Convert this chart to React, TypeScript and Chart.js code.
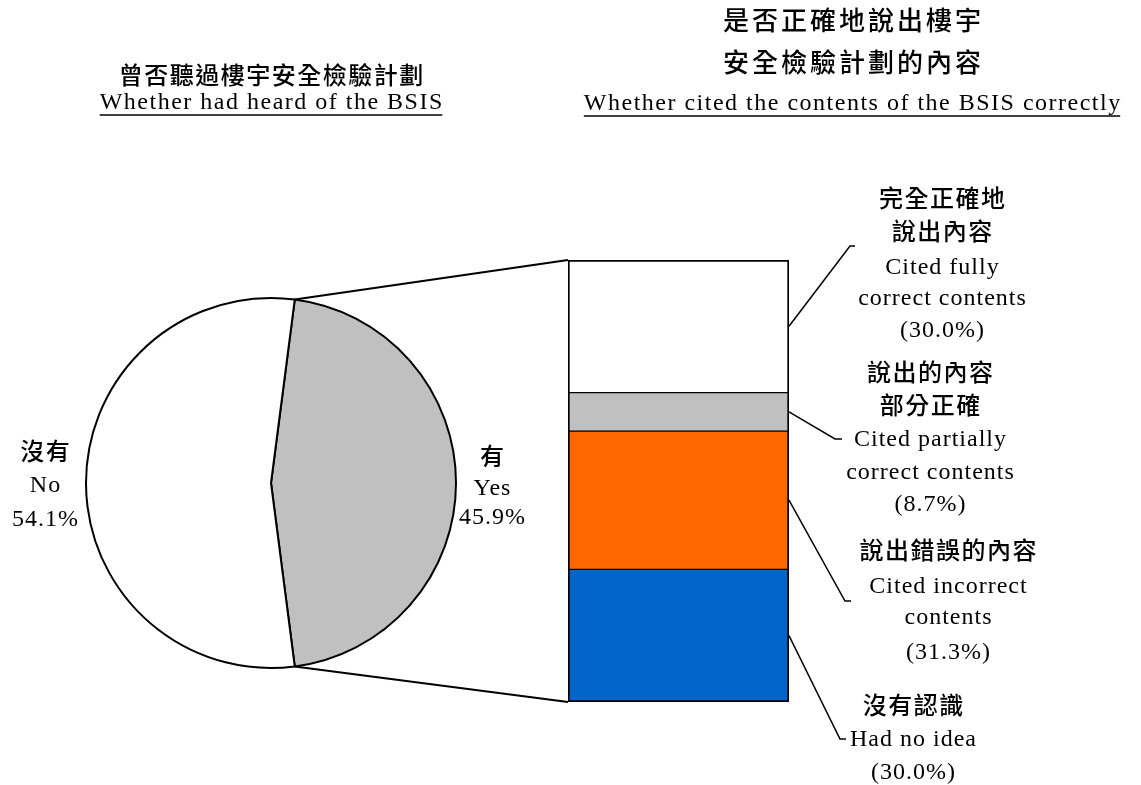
import React, { useEffect, useRef } from 'react';
import { Chart, registerables } from 'chart.js';

Chart.register(...registerables);

// ---------- data ----------
const pieCategoriesZh = ['有', '沒有'];
const pieCategoriesEn = ['Yes', 'No'];
const pieValues = [45.9, 54.1];
const pieColors = ['#C0C0C0', '#FFFFFF'];

// bottom -> top of the stacked bar
const barCategoriesZh = [['沒有認識'], ['說出錯誤的內容'], ['說出的內容', '部分正確'], ['完全正確地', '說出內容']];
const barCategoriesEn = [['Had no idea'], ['Cited incorrect', 'contents'], ['Cited partially', 'correct contents'], ['Cited fully', 'correct contents']];
const barValues = [30.0, 31.3, 8.7, 30.0];
const barColors = ['#0066CC', '#FF6600', '#C0C0C0', '#FFFFFF'];

const titleLeftZh = '曾否聽過樓宇安全檢驗計劃';
const titleLeftEn = 'Whether had heard of the BSIS';
const titleRightZh = ['是否正確地說出樓宇', '安全檢驗計劃的內容'];
const titleRightEn = 'Whether cited the contents of the BSIS correctly';

// ---------- layout ----------
const W = 1141;
const H = 785;

const ZH_FONT = '"Noto Sans CJK TC", "Noto Sans CJK SC", sans-serif';
const EN_FONT = '"Liberation Serif", "Times New Roman", serif';
const ZH = '500 24px ' + ZH_FONT;
const ZH_SP = 1.5;
const EN = '24px ' + EN_FONT;

const barLabelLayout = [
  { elbow: [840, 739], tick: 6, cx: 913, ys: [705, 740, 773] },
  { elbow: [845, 601], tick: 6, cx: 948, ys: [550, 587, 618, 653] },
  { elbow: [835, 439], tick: 7, cx: 930, ys: [372, 405, 440, 473, 505] },
  { elbow: [850, 246], tick: 5, cx: 942, ys: [198, 231, 268, 299, 331] },
];
const pieLabelLayout = [
  { cx: 492, ys: [456, 489, 518] },
  { cx: 45, ys: [451, 486, 520] },
];

function drawText(
  ctx: CanvasRenderingContext2D,
  text: string,
  x: number,
  y: number,
  font: string,
  spacing: number,
  underline = false,
  underlineOffset = 12
) {
  ctx.save();
  ctx.font = font;
  (ctx as any).letterSpacing = spacing + 'px';
  ctx.textAlign = 'center';
  ctx.textBaseline = 'middle';
  ctx.fillStyle = '#000';
  ctx.fillText(text, x + spacing / 2, y);
  if (underline) {
    const w = ctx.measureText(text).width - spacing;
    ctx.strokeStyle = '#000';
    ctx.lineWidth = 1.5;
    ctx.beginPath();
    ctx.moveTo(x - w / 2, y + underlineOffset);
    ctx.lineTo(x + w / 2, y + underlineOffset);
    ctx.stroke();
  }
  ctx.restore();
}

export default function App() {
  const pieRef = useRef<HTMLCanvasElement>(null);
  const barRef = useRef<HTMLCanvasElement>(null);

  useEffect(() => {
    if (!pieRef.current || !barRef.current) return;

    const pieChart = new Chart(pieRef.current, {
      type: 'pie',
      data: {
        labels: pieCategoriesEn,
        datasets: [
          {
            data: pieValues,
            backgroundColor: pieColors,
            borderColor: '#000',
            borderWidth: 2,
          },
        ],
      },
      options: {
        responsive: false,
        animation: false,
        rotation: 90 - (pieValues[0] * 360) / 100 / 2,
        layout: { padding: { left: 85, right: W - 85 - 372, top: 297, bottom: H - 297 - 372 } },
        plugins: { legend: { display: false }, tooltip: { enabled: false } },
      },
    });

    const overlay = {
      id: 'overlay',
      afterDraw(chart: any) {
        const ctx: CanvasRenderingContext2D = chart.ctx;
        const n = barValues.length;
        const els = barValues.map((_, i) => chart.getDatasetMeta(i).data[0] as any);
        const left = els[0].x - els[0].width / 2;
        const right = els[0].x + els[0].width / 2;
        const topY = els[n - 1].y;
        const bottomY = els[0].base;

        // connectors from pie to bar
        const arc: any = pieChart.getDatasetMeta(0).data[0];
        const r = arc.outerRadius;
        const p1 = [arc.x + r * Math.cos(arc.startAngle), arc.y + r * Math.sin(arc.startAngle)];
        const p2 = [arc.x + r * Math.cos(arc.endAngle), arc.y + r * Math.sin(arc.endAngle)];
        ctx.save();
        ctx.strokeStyle = '#000';
        ctx.lineWidth = 2;
        ctx.beginPath();
        ctx.moveTo(p1[0], p1[1]);
        ctx.lineTo(left, topY);
        ctx.moveTo(p2[0], p2[1]);
        ctx.lineTo(left, bottomY);
        ctx.stroke();

        // leader lines
        ctx.lineWidth = 1.5;
        els.forEach((el, i) => {
          const L = barLabelLayout[i];
          const midY = (el.y + el.base) / 2;
          ctx.beginPath();
          ctx.moveTo(right, midY);
          ctx.lineTo(L.elbow[0], L.elbow[1]);
          ctx.lineTo(L.elbow[0] + L.tick, L.elbow[1]);
          ctx.stroke();
        });
        ctx.restore();

        // bar labels
        barValues.forEach((v, i) => {
          const L = barLabelLayout[i];
          const lines: { t: string; zh: boolean }[] = [
            ...barCategoriesZh[i].map((t) => ({ t, zh: true })),
            ...barCategoriesEn[i].map((t) => ({ t, zh: false })),
            { t: '(' + v.toFixed(1) + '%)', zh: false },
          ];
          lines.forEach((ln, k) => {
            if (ln.zh) drawText(ctx, ln.t, L.cx, L.ys[k], ZH, ZH_SP);
            else drawText(ctx, ln.t, L.cx, L.ys[k], EN, 1);
          });
        });

        // pie labels
        pieValues.forEach((v, i) => {
          const L = pieLabelLayout[i];
          drawText(ctx, pieCategoriesZh[i], L.cx, L.ys[0], ZH, ZH_SP);
          drawText(ctx, pieCategoriesEn[i], L.cx, L.ys[1], EN, 1);
          drawText(ctx, v.toFixed(1) + '%', L.cx, L.ys[2], EN, 1);
        });

        // titles
        drawText(ctx, titleLeftZh, 271, 75, ZH, ZH_SP);
        drawText(ctx, titleLeftEn, 271, 103, EN, 1.5, true, 12);
        drawText(ctx, titleRightZh[0], 852, 20, '500 26px ' + ZH_FONT, 3);
        drawText(ctx, titleRightZh[1], 852, 62, '500 26px ' + ZH_FONT, 3);
        drawText(ctx, titleRightEn, 852, 104, EN, 1.5, true, 12);
      },
    };

    const barChart = new Chart(barRef.current, {
      type: 'bar',
      data: {
        labels: ['BSIS'],
        datasets: barValues.map((v, i) => ({
          label: barCategoriesEn[i].join(' '),
          data: [v],
          backgroundColor: barColors[i],
          borderColor: '#000',
          borderWidth: { left: 2, right: 2, top: i === barValues.length - 1 ? 2 : 1, bottom: i === 0 ? 2 : 1 },
          borderSkipped: false,
          categoryPercentage: 1,
          barPercentage: 1,
        })),
      },
      options: {
        responsive: false,
        animation: false,
        layout: { padding: { left: 568, right: W - 789, top: 260, bottom: H - 702 } },
        scales: {
          x: { display: false, stacked: true },
          y: { display: false, stacked: true, min: 0, max: 100 },
        },
        plugins: { legend: { display: false }, tooltip: { enabled: false } },
      },
      plugins: [overlay],
    });

    return () => {
      barChart.destroy();
      pieChart.destroy();
    };
  }, []);

  return (
    <div style={{ position: 'absolute', left: 0, top: 0, width: W, height: H, background: '#fff' }}>
      <canvas
        ref={pieRef}
        width={W}
        height={H}
        style={{ position: 'absolute', left: 0, top: 0, width: W + 'px', height: H + 'px' }}
      />
      <canvas
        ref={barRef}
        width={W}
        height={H}
        style={{ position: 'absolute', left: 0, top: 0, width: W + 'px', height: H + 'px' }}
      />
    </div>
  );
}
